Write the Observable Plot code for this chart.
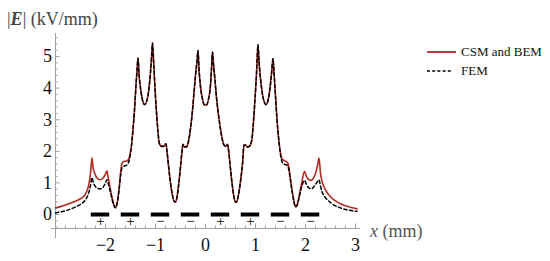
<!DOCTYPE html>
<html><head><meta charset="utf-8">
<script src="https://cdn.jsdelivr.net/npm/d3@7"></script>
<script src="https://cdn.jsdelivr.net/npm/@observablehq/plot@0.6"></script>
<style>
body{margin:0;background:#fff;}
#wrap{position:relative;width:550px;height:261px;font-family:"Liberation Serif","Times New Roman",serif;}
.lab{position:absolute;white-space:nowrap;line-height:1;}
</style></head><body>
<div id="wrap"></div>
<script>
// x positions (mm)
const xs = [
 -3.00,-2.90,-2.80,-2.70,-2.60,-2.50,-2.42,-2.37,-2.33,-2.30,
 -2.27,-2.25,-2.22,-2.18,-2.11,-2.05,-2.01,-1.97,-1.95,-1.92,
 -1.88,-1.84,-1.80,-1.77,-1.73,-1.70,-1.67,-1.63,-1.58,-1.54,
 -1.51,-1.48,-1.45,-1.42,-1.39,-1.37,-1.35,-1.33,-1.30,-1.27,
 -1.22,-1.17,-1.13,-1.10,-1.08,-1.06,-1.04,-1.02,-1.00,-0.97,
 -0.95,-0.93,-0.90,-0.86,-0.82,-0.79,-0.77,-0.74,-0.70,-0.66,
 -0.62,-0.60,-0.57,-0.54,-0.50,-0.47,-0.45,-0.42,-0.38,-0.35,
 -0.32,-0.29,-0.26,-0.23,-0.20,-0.17,-0.15,-0.13,-0.10,-0.06,
 -0.02, 0.02, 0.06, 0.10, 0.12, 0.14, 0.16, 0.19, 0.22, 0.26,
  0.30, 0.34, 0.37, 0.41, 0.44, 0.46, 0.49, 0.53, 0.57, 0.60,
  0.62, 0.66, 0.70, 0.74, 0.77, 0.80, 0.84, 0.88, 0.91, 0.93,
  0.96, 0.99, 1.02, 1.05, 1.07, 1.10, 1.14, 1.21, 1.26, 1.29,
  1.32, 1.35, 1.37, 1.40, 1.43, 1.46, 1.49, 1.52, 1.56, 1.62,
  1.65, 1.68, 1.72, 1.76, 1.80, 1.83, 1.88, 1.93, 1.98, 2.02,
  2.07, 2.11, 2.16, 2.20, 2.24, 2.27, 2.30, 2.33, 2.37, 2.40,
  2.50, 2.57, 2.70, 2.83, 3.03
];
// |E| (kV/mm), CSM and BEM
const csmBem = [
 0.21,0.25,0.30,0.36,0.42,0.50,0.60,0.75,0.98,1.30,
 1.79,1.50,1.32,1.18,1.10,1.15,1.25,1.38,1.20,0.95,
 0.62,0.35,0.22,0.35,0.80,1.30,1.62,1.68,1.69,1.74,
 1.90,2.20,2.70,3.30,4.10,4.55,4.95,4.45,4.00,3.70,
 3.48,3.62,4.00,4.50,4.95,5.43,4.90,4.30,3.72,3.00,
 2.62,2.30,2.18,2.15,2.18,2.24,2.00,1.55,1.00,0.60,
 0.40,0.40,0.55,0.90,1.50,2.00,2.22,2.14,2.14,2.25,
 2.50,2.85,3.30,3.85,4.40,4.85,5.19,4.60,4.05,3.65,
 3.47,3.47,3.65,4.10,4.60,5.14,4.75,4.25,3.70,3.15,
 2.70,2.35,2.20,2.16,2.22,2.05,1.60,1.00,0.55,0.39,
 0.40,0.62,1.05,1.60,2.20,2.20,2.14,2.16,2.25,2.40,
 2.95,3.65,4.45,5.37,4.85,4.30,3.80,3.48,3.68,4.00,
 4.45,4.93,4.50,3.75,3.00,2.45,2.05,1.80,1.72,1.67,
 1.62,1.35,0.90,0.50,0.25,0.30,0.65,1.05,1.37,1.20,
 1.10,1.08,1.15,1.30,1.55,1.79,1.30,1.05,0.88,0.78,
 0.56,0.46,0.34,0.26,0.18
];
// |E| (kV/mm), FEM
const fem = [
 0.05,0.08,0.12,0.17,0.24,0.32,0.43,0.55,0.72,0.92,
 1.17,1.05,0.93,0.85,0.81,0.86,0.97,1.10,1.00,0.82,
 0.56,0.32,0.21,0.33,0.75,1.20,1.48,1.53,1.56,1.64,
 1.84,2.17,2.70,3.30,4.10,4.55,4.95,4.45,4.00,3.70,
 3.48,3.62,4.00,4.50,4.95,5.43,4.90,4.30,3.72,3.00,
 2.62,2.30,2.18,2.15,2.18,2.24,2.00,1.55,1.00,0.60,
 0.40,0.40,0.55,0.90,1.50,2.00,2.22,2.14,2.14,2.25,
 2.50,2.85,3.30,3.85,4.40,4.85,5.19,4.60,4.05,3.65,
 3.47,3.47,3.65,4.10,4.60,5.14,4.75,4.25,3.70,3.15,
 2.70,2.35,2.20,2.16,2.22,2.05,1.60,1.00,0.55,0.39,
 0.40,0.62,1.05,1.60,2.20,2.20,2.14,2.16,2.25,2.40,
 2.95,3.65,4.45,5.37,4.85,4.30,3.80,3.48,3.68,4.00,
 4.45,4.93,4.50,3.75,3.00,2.45,2.02,1.72,1.60,1.57,
 1.52,1.28,0.85,0.47,0.24,0.28,0.58,0.92,1.08,0.95,
 0.84,0.81,0.86,0.95,1.04,1.10,0.90,0.72,0.60,0.53,
 0.38,0.30,0.21,0.15,0.10
];
const electrodeCenters = [-2.1,-1.5,-0.9,-0.3,0.3,0.9,1.5,2.1];
const electrodeSigns = ["+","+","\u2212","\u2212","+","+","\u2212","\u2212"];
const electrodeWidth = 0.37;
const xTicks = [-2,-1,0,1,2,3];
const yTicks = [0,1,2,3,4,5];
const seriesNames = ["CSM and BEM","FEM"];

// layout constants
const X_AXIS_AT = -0.443, Y_AXIS_AT = -3;
const xMinor = d3.range(-30, 31, 2).map(v => v/10).filter(v => !Number.isInteger(v));
const yMinor = d3.range(-4, 57, 2).map(v => v/10).filter(v => !Number.isInteger(v));
const fmt = d => d < 0 ? "\u2212" + (-d) : String(d);
const RED = "#b32a22", AXIS = "#a0a0a0";

const rowsA = xs.map((x, i) => ({x, e: csmBem[i]}));
const rowsB = xs.map((x, i) => ({x, e: fem[i]}));
const electrodes = electrodeCenters.map((c, i) => ({c, sign: electrodeSigns[i]}));

const chart = Plot.plot({
  width: 550, height: 261,
  marginLeft: 55, marginRight: 190, marginTop: 33, marginBottom: 33,
  x: {domain: [-3, 3.1]},
  y: {domain: [X_AXIS_AT, 5.73]},
  style: {fontFamily: '"Liberation Serif","Times New Roman",serif', fontSize: "18px", background: "white", color: "#111"},
  marks: [
    Plot.ruleY([X_AXIS_AT], {x1: -3.08, x2: 3.1, stroke: AXIS}),
    Plot.ruleX([Y_AXIS_AT], {y1: -0.76, y2: 5.73, stroke: AXIS}),
    Plot.axisX({ticks: xMinor, tickSize: -2.5, fill: "none", stroke: AXIS, label: null}),
    Plot.axisX({ticks: xTicks, tickSize: -4.5, tickPadding: 14, stroke: AXIS, fill: "#111", tickFormat: fmt, label: null}),
    Plot.axisY({ticks: yMinor, tickSize: -2.5, fill: "none", stroke: AXIS, label: null}),
    Plot.axisY({ticks: yTicks, tickSize: -4.5, tickPadding: 8, stroke: AXIS, fill: "#111", tickFormat: fmt, label: null}),
    Plot.ruleY(electrodes, {y: 0, x1: d => d.c - electrodeWidth/2, x2: d => d.c + electrodeWidth/2, stroke: "black", strokeWidth: 4}),
    Plot.text(electrodes, {x: "c", y: 0, text: "sign", dy: 7, fontSize: 15, fill: "black"}),
    Plot.line(rowsA, {x: "x", y: "e", stroke: RED, strokeWidth: 1.6, curve: "monotone-x"}),
    Plot.line(rowsB, {x: "x", y: "e", stroke: "black", strokeWidth: 1.5, strokeDasharray: "3.2,2.6", curve: "monotone-x"})
  ]
});

const wrap = document.getElementById("wrap");
wrap.appendChild(chart);
chart.style.position = "absolute"; chart.style.left = "0"; chart.style.top = "0";

function addLabel(html, left, top, size, color) {
  const d = document.createElement("div");
  d.className = "lab";
  d.innerHTML = html;
  d.style.left = left + "px"; d.style.top = top + "px";
  d.style.fontSize = size + "px"; d.style.color = color;
  wrap.appendChild(d);
  return d;
}
addLabel('|<b><i>E</i></b>| (kV/mm)', 7, 10, 18, "#444");
addLabel('<i>x</i> (mm)', 370, 222, 18, "#555");

// legend
function addSwatch(top, width, stroke, dash, sw) {
  const ns = "http://www.w3.org/2000/svg";
  const s = document.createElementNS(ns, "svg");
  s.setAttribute("width", width); s.setAttribute("height", 6);
  s.style.position = "absolute"; s.style.left = "427px"; s.style.top = (top - 3) + "px";
  const l = document.createElementNS(ns, "line");
  l.setAttribute("x1", 0); l.setAttribute("x2", width); l.setAttribute("y1", 3); l.setAttribute("y2", 3);
  l.setAttribute("stroke", stroke); l.setAttribute("stroke-width", sw);
  if (dash) l.setAttribute("stroke-dasharray", dash);
  s.appendChild(l);
  wrap.appendChild(s);
}
addSwatch(52, 29, RED, null, 1.8);
addSwatch(71, 24, "black", "3,2.2", 1.5);
addLabel(seriesNames[0], 461, 45, 13, "#111");
addLabel(seriesNames[1], 461, 64, 13, "#111");
</script>
</body></html>
